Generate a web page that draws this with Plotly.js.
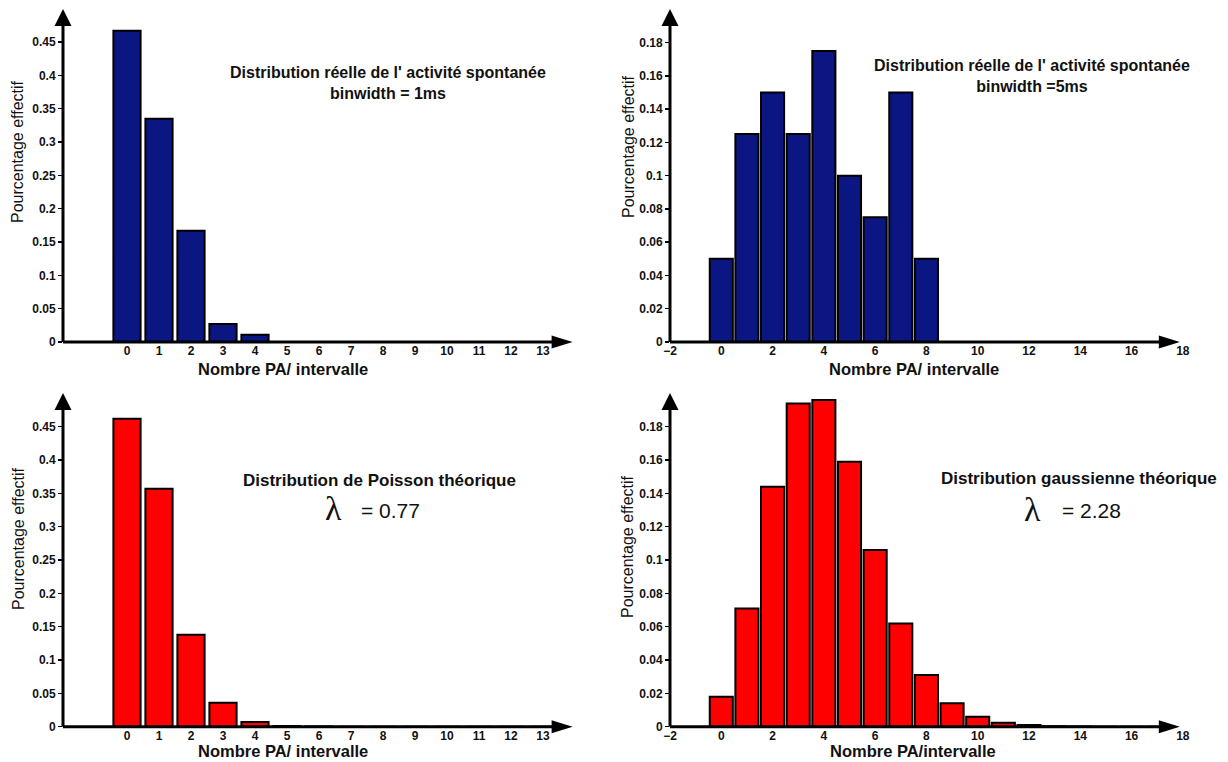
<!DOCTYPE html>
<html>
<head>
<meta charset="utf-8">
<script src="https://cdn.plot.ly/plotly-3.0.1.min.js"></script>
<style>html,body{margin:0;padding:0;background:#fff;}#chart{width:1228px;height:762px;}</style>
</head>
<body>
<div id="chart"></div>
<script>
// ---- data ----
var xReal1 = [0, 1, 2, 3, 4];
var yReal1 = [0.467, 0.335, 0.167, 0.027, 0.011];

var xReal5 = [0, 1, 2, 3, 4, 5, 6, 7, 8];
var yReal5 = [0.05, 0.125, 0.15, 0.125, 0.175, 0.1, 0.075, 0.15, 0.05];

var xPoisson = [0, 1, 2, 3, 4, 5, 6, 7, 8, 9, 10, 11, 12, 13];
var yPoisson = [0.462, 0.357, 0.138, 0.036, 0.007, 0.0012, 0.0002, 0, 0, 0, 0, 0, 0, 0];

var xGauss = [0, 1, 2, 3, 4, 5, 6, 7, 8, 9, 10, 11, 12, 13, 14, 15, 16, 17];
var yGauss = [0.018, 0.071, 0.144, 0.194, 0.196, 0.159, 0.106, 0.062, 0.031, 0.014, 0.006, 0.0024, 0.001, 0.0003, 0.0001, 0, 0, 0];

var ticksX13 = [0, 1, 2, 3, 4, 5, 6, 7, 8, 9, 10, 11, 12, 13];
var ticksX18 = [-2, 0, 2, 4, 6, 8, 10, 12, 14, 16, 18];
var ticksY45 = [0, 0.05, 0.1, 0.15, 0.2, 0.25, 0.3, 0.35, 0.4, 0.45];
var ticksY18 = [0, 0.02, 0.04, 0.06, 0.08, 0.1, 0.12, 0.14, 0.16, 0.18];

var titleReal = "Distribution réelle de l' activité spontanée";
var subReal1 = "binwidth = 1ms";
var subReal5 = "binwidth =5ms";
var titlePoisson = "Distribution de Poisson théorique";
var titleGauss = "Distribution gaussienne théorique";
var lambdaPoisson = "= 0.77";
var lambdaGauss = "= 2.28";
var yTitle = "Pourcentage effectif";
var xTitle = "Nombre PA/ intervalle";
var xTitle4 = "Nombre PA/intervalle";

// ---- styling ----
var W = 1228, H = 762;
var BLUE = "#0b1683", RED = "#ff0000";
var FONT = "Liberation Sans, Arial, sans-serif";

function bar(x, y, color, w, xa_, ya_) {
  return {type: "bar", x: x, y: y, width: w, xaxis: xa_, yaxis: ya_,
    marker: {color: color, line: {color: "#000", width: 2}}, hoverinfo: "x+y", showlegend: false};
}

var data = [
  bar(xReal1, yReal1, BLUE, 0.85, "x", "y"),
  bar(xReal5, yReal5, BLUE, 0.9, "x2", "y2"),
  bar(xPoisson, yPoisson, RED, 0.85, "x3", "y3"),
  bar(xGauss, yGauss, RED, 0.9, "x4", "y4")
];

var tickFont = {family: FONT, size: 12, color: "#111", weight: "bold"};
function xa(domain, range, tickvals, anchor) {
  return {domain: domain, range: range, tickvals: tickvals, anchor: anchor, showline: false,
    showgrid: false, zeroline: false, ticks: "", tickfont: tickFont, fixedrange: true};
}
function ya(domain, range, tickvals, anchor) {
  return {domain: domain, range: range, tickvals: tickvals, anchor: anchor, showline: false,
    showgrid: false, zeroline: false, ticks: "outside", ticklen: 4, tickwidth: 1.5, tickcolor: "#000",
    tickfont: tickFont, fixedrange: true};
}

var layout = {
  width: W, height: H, autosize: false,
  margin: {l: 0, r: 0, t: 0, b: 0, pad: 0},
  paper_bgcolor: "#fff", plot_bgcolor: "rgba(0,0,0,0)",
  showlegend: false, bargap: 0,
  xaxis: xa([63 / W, 552.6 / W], [-2, 13.3], ticksX13, "y"),
  yaxis: ya([1 - 342 / H, 1 - 25 / H], [0, 0.4755], ticksY45, "x"),
  xaxis2: xa([670 / W, 1188 / W], [-2, 18.2], ticksX18, "y2"),
  yaxis2: ya([1 - 342 / H, 1 - 25 / H], [0, 0.1906], ticksY18, "x2"),
  xaxis3: xa([63 / W, 552.6 / W], [-2, 13.3], ticksX13, "y3"),
  yaxis3: ya([1 - 726.7 / H, 1 - 409 / H], [0, 0.4766], ticksY45, "x3"),
  xaxis4: xa([670 / W, 1188 / W], [-2, 18.2], ticksX18, "y4"),
  yaxis4: ya([1 - 726.7 / H, 1 - 393.4 / H], [0, 0.2], ticksY18, "x4")
};

// axis extents (data units) where the arrow heads start
var axes = [
  {x: "x", y: "y", xk: "xaxis", yk: "yaxis", xEnd: 13.3, yEnd: 0.4755},
  {x: "x2", y: "y2", xk: "xaxis2", yk: "yaxis2", xEnd: 17.1, yEnd: 0.1906},
  {x: "x3", y: "y3", xk: "xaxis3", yk: "yaxis3", xEnd: 13.3, yEnd: 0.4766},
  {x: "x4", y: "y4", xk: "xaxis4", yk: "yaxis4", xEnd: 17.1, yEnd: 0.1906}
];
function frac(r, v) { return (v - r[0]) / (r[1] - r[0]); }
var shapes = [];
axes.forEach(function (a) {
  var xr = layout[a.xk].range, yr = layout[a.yk].range;
  var fx = frac(xr, a.xEnd), fy = frac(yr, a.yEnd);
  var xd = a.x + " domain", yd = a.y + " domain";
  shapes.push({type: "line", xref: xd, yref: yd, x0: 0, x1: fx, y0: 0, y1: 0, line: {color: "#000", width: 3}});
  shapes.push({type: "line", xref: xd, yref: yd, x0: 0, x1: 0, y0: 0, y1: fy, line: {color: "#000", width: 3}});
  shapes.push({type: "path", xref: xd, yref: yd, xsizemode: "pixel", ysizemode: "pixel", xanchor: fx, yanchor: 0,
    path: "M-1,-6.5 L-1,6.5 L20,0 Z", fillcolor: "#000", line: {width: 0}});
  shapes.push({type: "path", xref: xd, yref: yd, xsizemode: "pixel", ysizemode: "pixel", xanchor: 0, yanchor: fy,
    path: "M-8.5,-1 L8.5,-1 L0,16 Z", fillcolor: "#000", line: {width: 0}});
});
layout.shapes = shapes;

function ann(text, px, py, font, angle) {
  return {text: text, xref: "paper", yref: "paper", x: px / W, y: 1 - py / H, xanchor: "center", yanchor: "middle",
    showarrow: false, font: font, textangle: angle || 0};
}
var annFont = {family: FONT, size: 17, color: "#111", weight: "bold"};
var annFont2 = {family: FONT, size: 16, color: "#111", weight: "bold"};
var yTitleFont = {family: FONT, size: 16, color: "#111"};
var xTitleFont = {family: FONT, size: 16.5, color: "#111", weight: "bold"};
var lamFont = {family: "Liberation Serif, Times New Roman, serif", size: 34, color: "#111"};
var eqFont = {family: FONT, size: 21, color: "#111"};

layout.annotations = [
  ann(titleReal + "<br>" + subReal1, 388, 83.5, annFont2),
  ann(titleReal + "<br>" + subReal5, 1032, 76, annFont2),
  ann(titlePoisson, 379, 480, annFont),
  ann("λ", 333, 508, lamFont), ann(lambdaPoisson, 391, 510, eqFont),
  ann(titleGauss, 1079, 479, annFont),
  ann("λ", 1032, 509, lamFont), ann(lambdaGauss, 1091, 511, eqFont),
  ann(yTitle, 18, 152, yTitleFont, -90), ann(yTitle, 628, 147, yTitleFont, -90),
  ann(yTitle, 18, 539, yTitleFont, -90), ann(yTitle, 627, 547, yTitleFont, -90),
  ann(xTitle, 283, 369, xTitleFont), ann(xTitle, 914, 369, xTitleFont),
  ann(xTitle, 283, 751, xTitleFont), ann(xTitle4, 913, 751, xTitleFont)
];

Plotly.newPlot("chart", data, layout, {displayModeBar: false, staticPlot: true});
</script>
</body>
</html>
